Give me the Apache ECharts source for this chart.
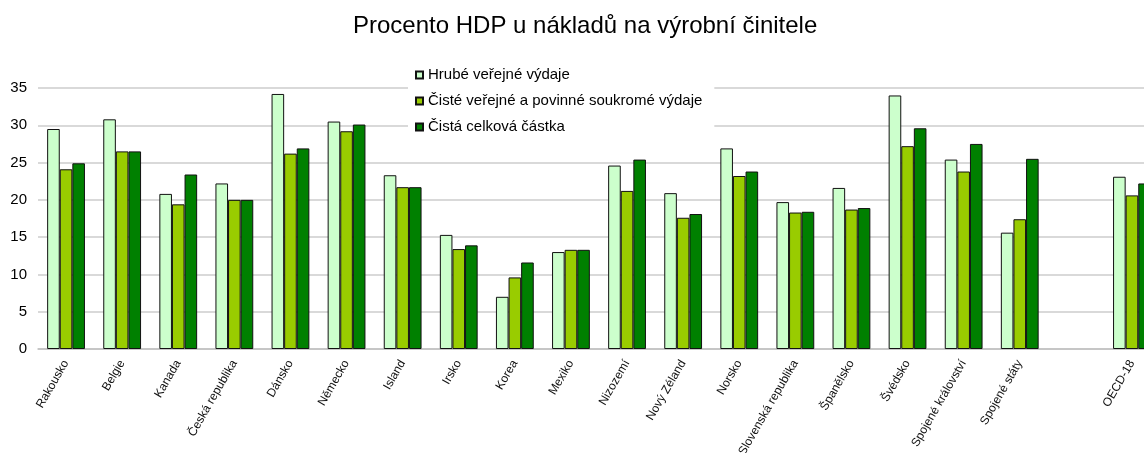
<!DOCTYPE html>
<html>
<head>
<meta charset="utf-8">
<script src="https://cdn.jsdelivr.net/npm/echarts@6/dist/echarts.min.js"></script>
<style>
  html, body { margin: 0; padding: 0; background: #fff; }
  #chart { width: 1144px; height: 453px; }
</style>
</head>
<body>
<div id="chart"></div>
<script>
// categories (blank slot before OECD-18 as in the original)
var countries = ['Rakousko', 'Belgie', 'Kanada', 'Česká republika', 'Dánsko', 'Německo', 'Island',
  'Irsko', 'Korea', 'Mexiko', 'Nizozemí', 'Nový Zéland', 'Norsko', 'Slovenská republika',
  'Španělsko', 'Švédsko', 'Spojené království', 'Spojené státy', '', 'OECD-18']

var grossPublic = [29.5, 30.8, 20.8, 22.2, 34.2, 30.5, 23.3, 15.3, 7.0, 13.0, 24.6, 20.9, 26.9,
  19.7, 21.6, 34.0, 25.4, 15.6, '-', 23.1]
var netPublicPrivate = [24.1, 26.5, 19.4, 20.0, 26.2, 29.2, 21.7, 13.4, 9.6, 13.3, 21.2, 17.6, 23.2,
  18.3, 18.7, 27.2, 23.8, 17.4, '-', 20.6]
var netTotal = [24.9, 26.5, 23.4, 20.0, 26.9, 30.1, 21.7, 13.9, 11.6, 13.3, 25.4, 18.1, 23.8,
  18.4, 18.9, 29.6, 27.5, 25.5, '-', 22.2]

var yTicks = { min: 0, max: 35, interval: 5 }

var seriesNames = ['Hrubé veřejné výdaje', 'Čisté veřejné a povinné soukromé výdaje', 'Čistá celková částka']
var seriesColors = ['#ccffcc', '#99cc00', '#008000']
var seriesData = [grossPublic, netPublicPrivate, netTotal]

var chart = echarts.init(document.getElementById('chart'))
chart.setOption({
  animation: false,
  textStyle: { fontFamily: 'Liberation Sans, Arial, sans-serif' },
  title: {
    text: 'Procento HDP u nákladů na výrobní činitele',
    left: 348,
    top: 9,
    textStyle: { fontSize: 24, fontWeight: 'normal', color: '#000' }
  },
  legend: {
    data: seriesNames,
    orient: 'vertical',
    left: 408,
    top: 65,
    backgroundColor: '#fff',
    padding: [2, 12, 6, 7],
    itemWidth: 7,
    itemHeight: 7,
    itemGap: 10,
    icon: 'rect',
    textStyle: { fontSize: 15, color: '#000', lineHeight: 16 }
  },
  grid: {
    left: 38,
    top: 88,
    width: 1122,
    bottom: 104,
    outerBoundsMode: 'none',
    containLabel: false
  },
  xAxis: {
    type: 'category',
    data: countries,
    axisLine: { lineStyle: { color: '#c0c0c0', width: 1.5 } },
    axisTick: { show: false },
    axisLabel: {
      interval: 0,
      rotate: 60,
      fontSize: 12,
      color: '#111',
      margin: 12
    }
  },
  yAxis: {
    type: 'value',
    min: yTicks.min,
    max: yTicks.max,
    interval: yTicks.interval,
    axisLine: { show: false },
    axisTick: { show: false },
    axisLabel: { fontSize: 15, color: '#000', margin: 11 },
    splitLine: { lineStyle: { color: '#cccccc', width: 1.5 } }
  },
  series: seriesNames.map(function (name, i) {
    return {
      name: name,
      type: 'bar',
      data: seriesData[i],
      barWidth: 12.6,
      barGap: '0%',
      itemStyle: { color: seriesColors[i], borderColor: '#111', borderWidth: 1 }
    }
  })
})
</script>
</body>
</html>
